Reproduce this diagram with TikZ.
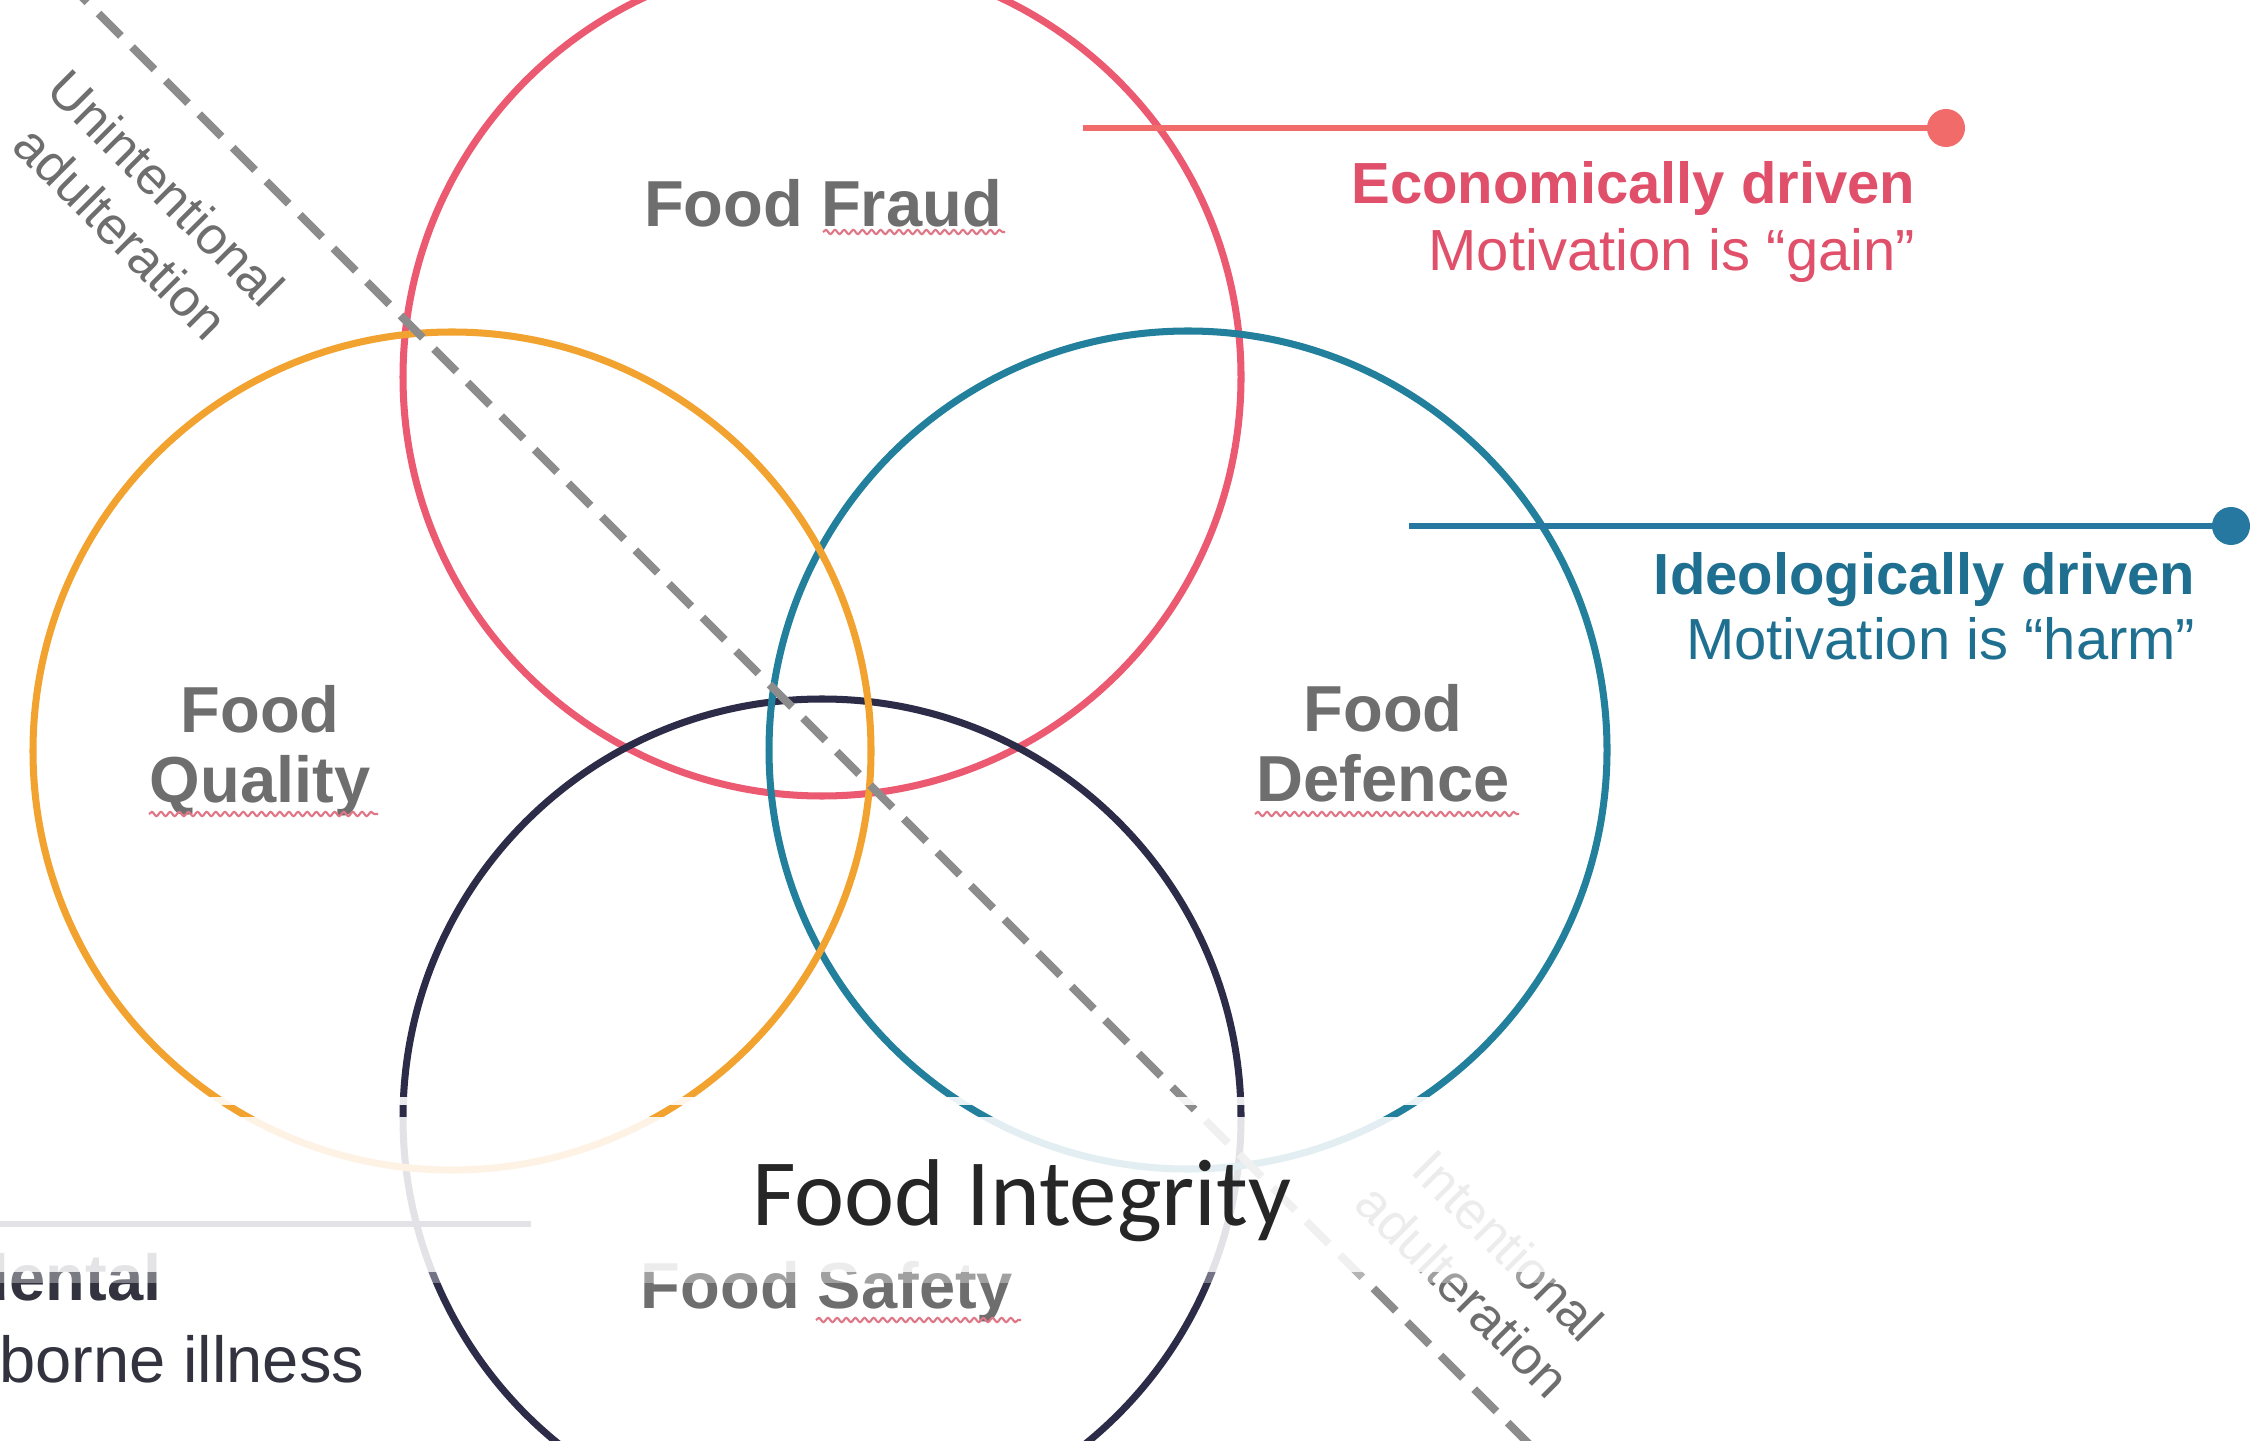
\documentclass[tikz,border=0pt]{standalone}
\usepackage{fontspec}
\usepackage{tkz-euclide}
\usetikzlibrary{decorations.pathmorphing,positioning}
\setmainfont{Liberation Sans}
\newfontfamily\titlefont{Carlito}

\definecolor{fraudred}{HTML}{EC5A72}
\definecolor{fraudline}{HTML}{F26B6B}
\definecolor{fraudtext}{HTML}{E0506A}
\definecolor{qualorange}{HTML}{F2A22E}
\definecolor{defteal}{HTML}{22809C}
\definecolor{defline}{HTML}{2678A0}
\definecolor{deftext}{HTML}{1F7090}
\definecolor{safenavy}{HTML}{2C2B48}
\definecolor{safetext}{HTML}{33333F}
\definecolor{labelgray}{HTML}{6E6E6E}
\definecolor{dashgray}{HTML}{8C8C8C}
\definecolor{squiggle}{HTML}{E07585}
\definecolor{titlegray}{HTML}{262626}

\tikzset{
  ring/.style={line width=2pt},
  circlabel/.style={font=\fontsize{18.5}{20}\selectfont\bfseries, text=labelgray,
    align=center, inner sep=0pt},
  sidebold/.style={font=\fontsize{16.5}{19}\selectfont\bfseries, inner sep=0pt},
  sideplain/.style={font=\fontsize{16.5}{19}\selectfont, inner sep=0pt},
  diaglabel/.style={font=\fontsize{15}{18}\selectfont, text=labelgray,
    align=center, rotate=-45, inner sep=0pt},
  squiggly/.style={squiggle, line width=0.6pt,
    decorate, decoration={snake, amplitude=0.6pt, segment length=2.6pt}},
  pointer/.style={line width=1.5pt}
}

\begin{document}
\begin{tikzpicture}
\useasboundingbox (0,0) rectangle (22.64,14.40);
\clip (0,0) rectangle (22.64,14.40);
\fill[white] (0,0) rectangle (22.64,14.40);
% the four circles
\tkzDefPoints{8.22/10.63/FF, 4.52/6.89/FQ, 11.88/6.90/FD, 8.22/3.22/FS}
\tkzDefShiftPoint[FF](0:4.19cm){ff}
\tkzDefShiftPoint[FQ](0:4.19cm){fq}
\tkzDefShiftPoint[FD](0:4.19cm){fd}
\tkzDefShiftPoint[FS](0:4.19cm){fs}
\tkzDrawCircle[ring,color=fraudred](FF,ff)
\tkzDrawCircle[ring,color=safenavy](FS,fs)
\tkzDrawCircle[ring,color=defteal](FD,fd)
\tkzDrawCircle[ring,color=qualorange](FQ,fq)
% dividing line
\coordinate (dtop) at (0.65,14.60);
\coordinate (dbot) at (15.45,-0.20);
\draw[dashgray, line width=2.3pt, dash pattern=on 9pt off 4.5pt] (dtop) -- (dbot);
\node[diaglabel] (unint) at (1.44,12.30) {Unintentional\\adulteration};
\node[diaglabel] (inten) at (14.86,1.72) {Intentional\\adulteration};
% circle names
\node[circlabel, anchor=base] (fraud) at (8.23,12.13) {Food Fraud};
\node[circlabel] (quality) at (2.60,6.89) {Food\\Quality};
\node[circlabel] (defence) at (13.83,6.97) {Food\\Defence};
\node[circlabel, anchor=base] (safety) at (8.27,1.32) {Food Safety};
\foreach \xa/\xb/\yy in {8.23/10.05/12.08, 1.49/3.78/6.26, 12.55/15.19/6.26, 8.16/10.21/1.20}
  \draw[squiggly] (\xa,\yy) -- (\xb,\yy);
% pointers
\tkzDefPoints{10.83/13.12/g1, 19.46/13.12/g2, 14.09/9.14/h1, 22.31/9.14/h2, -1.00/2.16/a1, 5.31/2.16/a2}
\draw[pointer, fraudline] (g1) -- (g2);
\fill[fraudline] (g2) circle (0.19);
\draw[pointer, defline] (h1) -- (h2);
\fill[defline] (h2) circle (0.19);
\draw[pointer, safenavy] (a1) -- (a2);
\node[sidebold, text=fraudtext, anchor=base east] (econ) at (19.16,12.36) {Economically driven};
\node[sideplain, text=fraudtext, anchor=base east] (gain) at ([yshift=-0.67cm]econ.base east) {Motivation is “gain”};
\node[sidebold, text=deftext, anchor=base east] (ideo) at (21.96,8.45) {Ideologically driven};
\node[sideplain, text=deftext, anchor=base east] (harm) at ([yshift=-0.65cm]ideo.base east) {Motivation is “harm”};
\node[sidebold, font=\fontsize{18.5}{20}\selectfont\bfseries, text=safetext, anchor=base east] (accid) at (1.62,1.40) {Accidental};
\node[sideplain, font=\fontsize{18.5}{20}\selectfont, text=safetext, anchor=base east] (ill) at (3.65,0.58) {Foodborne illness};
% title bar
\fill[white, opacity=0.9] (1.40,3.35) rectangle (14.80,3.43);
\fill[white, opacity=0.87] (0,1.68) rectangle (22.64,3.23);
\fill[white, opacity=0.35] (0,1.57) rectangle (22.64,1.68);
\node[font=\titlefont\fontsize{27}{30}\selectfont, text=titlegray, anchor=base] (title) at (10.22,2.15) {Food Integrity};
\end{tikzpicture}
\end{document}
